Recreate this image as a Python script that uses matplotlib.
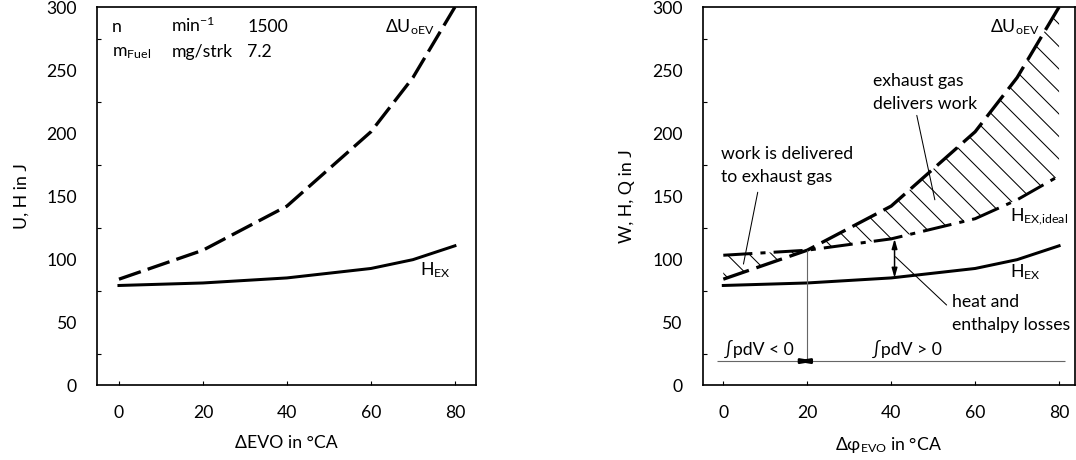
import matplotlib
matplotlib.use("Agg")
import matplotlib.pyplot as plt
from matplotlib.ticker import MultipleLocator

#
# data
#

# exhaust valve opening offset in degrees crank angle
evo = [0, 20, 40, 60, 70, 80]

# energies in J
du_oev = [84, 107, 142, 201, 244, 300]
h_ex = [79, 81, 85, 92.5, 99.5, 110.5]
h_ex_ideal = [103, 107, 116, 132, 147, 166]

# level of the pdV reference line and the sign switch point
pdv_level = 19
pdv_switch = 20

# operating point table (left chart)
op_names = ["n", "m$_\\mathregular{Fuel}$"]
op_units = ["min$^\\mathregular{-1}$", "mg/strk"]
op_values = ["1500", "7.2"]

#
# style
#

plt.rcParams["font.family"] = ["Lato", "DejaVu Sans"]
plt.rcParams["mathtext.fontset"] = "custom"
plt.rcParams["mathtext.rm"] = "Lato"
plt.rcParams["mathtext.it"] = "Lato:italic"
plt.rcParams["mathtext.bf"] = "Lato:bold"
plt.rcParams["hatch.linewidth"] = 0.55
plt.rcParams["font.size"] = 9.4

DPI = 135
fig = plt.figure(figsize=(1076 / DPI, 460 / DPI), dpi=DPI)
ax1 = fig.add_axes([0.0901, 0.1630, 0.3522, 0.8217])
ax2 = fig.add_axes([0.6531, 0.1630, 0.3460, 0.8217])


def style(ax, xlim):
  ax.set_xlim(*xlim)
  ax.set_ylim(0, 300)
  ax.xaxis.set_major_locator(MultipleLocator(20))
  ax.yaxis.set_major_locator(MultipleLocator(50))
  ax.yaxis.set_minor_locator(MultipleLocator(25))
  ax.tick_params(axis="x", which="major", direction="in", length=2.1, width=0.6, pad=10.5)
  ax.tick_params(axis="y", which="major", length=0, pad=10.7)
  ax.tick_params(axis="y", which="minor", direction="in", length=2.1, width=0.6)
  for s in ax.spines.values():
    s.set_linewidth(0.9)


style(ax1, (-5.24, 85.0))
style(ax2, (-4.9, 83.8))

#
# left chart
#

ax1.plot(evo, du_oev, color="black", lw=1.76, dashes=(7.0, 2.2))
ax1.plot(evo, h_ex, color="black", lw=1.6)

for i, (name, unit, val) in enumerate(zip(op_names, op_units, op_values)):
  y = 280.4 - i * 19.8
  ax1.text(-1.7, y, name, va="baseline")
  ax1.text(12.5, y, unit, va="baseline")
  ax1.text(30.5, y, val, va="baseline")

ax1.text(63.3, 280, "ΔU$_\\mathregular{oEV}$", va="baseline")
ax1.text(71.7, 87.3, "H$_\\mathregular{EX}$", va="baseline")

ax1.set_ylabel("U, H in J", labelpad=9)
ax1.set_xlabel("ΔEVO in °CA", labelpad=7.5)

#
# right chart
#

# hatched area between internal energy and ideal exhaust enthalpy
ax2.fill_between(evo, du_oev, h_ex_ideal, facecolor="none", edgecolor="black",
                 linewidth=0, hatch="\\\\")
ax2.plot(evo, du_oev, color="black", lw=1.76, dashes=(8.2, 2.4))
ax2.plot(evo, h_ex_ideal, color="black", lw=1.6, dashes=(9.7, 2.7, 1.7, 2.7))
ax2.plot(evo, h_ex, color="black", lw=1.6)

# pdV sign reference
ax2.hlines(pdv_level, -1.6, 81.5, color="#666666", lw=0.6)
ax2.vlines(pdv_switch, pdv_level, du_oev[1], color="#666666", lw=0.6)
ax2.annotate("", xy=(pdv_switch - 3.2, pdv_level), xytext=(pdv_switch + 2.3, pdv_level),
             arrowprops=dict(arrowstyle="<|-|>,head_length=0.6,head_width=0.1",
                             color="black", lw=1.3, shrinkA=0, shrinkB=0))

# heat and enthalpy loss arrow at 40 deg
ax2.annotate("", xy=(evo[2] + 0.8, h_ex[2]), xytext=(evo[2] + 0.8, h_ex_ideal[2]),
             arrowprops=dict(arrowstyle="<|-|>,head_length=0.45,head_width=0.13",
                             color="black", lw=0.8, shrinkA=0, shrinkB=0))

leader = dict(arrowstyle="-", color="black", lw=0.55, shrinkA=0, shrinkB=0)
ax2.annotate("", xy=(4.8, 96), xytext=(8.2, 153), arrowprops=leader)
ax2.annotate("", xy=(50.4, 147), xytext=(46.1, 214), arrowprops=leader)
ax2.annotate("", xy=(41.0, 101.8), xytext=(53.2, 63.5), arrowprops=leader)

ax2.text(-0.55, 179, "work is delivered", va="baseline")
ax2.text(-0.55, 161, "to exhaust gas", va="baseline")
ax2.text(35.6, 237.5, "exhaust gas", va="baseline")
ax2.text(35.6, 219, "delivers work", va="baseline")
ax2.text(54.4, 62.2, "heat and", va="baseline")
ax2.text(54.4, 43.7, "enthalpy losses", va="baseline")
ax2.text(0.25, 23.8, "∫pdV < 0", va="baseline")
ax2.text(35.4, 23.8, "∫pdV > 0", va="baseline")

ax2.text(63.6, 280, "ΔU$_\\mathregular{oEV}$", va="baseline")
ax2.text(68.3, 130.4, "H$_\\mathregular{EX{,}ideal}$", va="baseline")
ax2.text(68.3, 85.5, "H$_\\mathregular{EX}$", va="baseline")

ax2.set_ylabel("W, H, Q in J", labelpad=9)
ax2.set_xlabel("Δφ$_\\mathregular{EVO}$ in °CA", labelpad=7.5)

fig.savefig("out.png", dpi=DPI)
